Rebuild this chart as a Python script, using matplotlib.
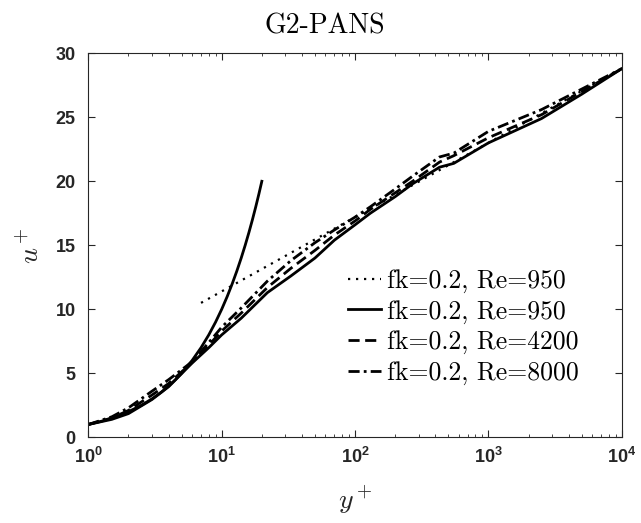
import numpy as np
import matplotlib
matplotlib.use("Agg")
import matplotlib.pyplot as plt

# ── data ──────────────────────────────────────────────────────
# viscous sublayer u+ = y+
yp_sub = [1, 1.25, 1.5, 1.75, 2, 2.5, 3, 3.5, 4, 4.5, 5, 6, 7, 8, 9, 10,
          11, 12, 13, 14, 15, 16, 17, 18, 19, 20]
up_sub = [1, 1.25, 1.5, 1.75, 2, 2.5, 3, 3.5, 4, 4.5, 5, 6, 7, 8, 9, 10,
          11, 12, 13, 14, 15, 16, 17, 18, 19, 20]

# log law (straight line on semilog axes)
yp_log = [7, 10000]
up_log = [10.5, 28.8]

# G2-PANS profiles
yp = [1, 1.5, 2, 3, 4, 6, 8, 10, 14, 22, 33, 50, 70, 100, 130, 200, 270,
      430, 550, 1000, 2500, 5000, 10000]
up_950 = [1.0, 1.4, 1.85, 2.95, 3.95, 5.8, 7.0, 8.0, 9.3, 11.3, 12.6, 14.0,
          15.4, 16.6, 17.5, 18.8, 19.8, 21.1, 21.4, 23.0, 24.9, 26.8, 28.8]
up_4200 = [1.0, 1.5, 2.1, 3.3, 4.2, 5.85, 7.2, 8.3, 9.7, 11.7, 13.2, 14.6,
           15.8, 16.9, 17.8, 19.1, 20.0, 21.5, 22.0, 23.4, 25.2, 27.0, 28.8]
up_8000 = [1.0, 1.6, 2.3, 3.6, 4.5, 5.9, 7.4, 8.6, 10.1, 12.2, 13.8, 15.2,
           16.2, 17.2, 18.0, 19.4, 20.4, 21.9, 22.2, 23.9, 25.6, 27.2, 28.8]

labels = ["fk=0.2, Re=950", "fk=0.2, Re=950", "fk=0.2, Re=4200", "fk=0.2, Re=8000"]

# ── style ──────────────────────────────────────────────────────
plt.rcParams["font.family"] = ["Liberation Sans Narrow", "Liberation Sans", "DejaVu Sans"]
plt.rcParams["mathtext.fontset"] = "cm"
dark = "#262626"

fig = plt.figure(figsize=(6.41, 5.23), dpi=100)
ax = fig.add_axes([0.1378, 0.1639, 0.8322, 0.7342])

lw = 2.0
l1, = ax.plot(yp_log, up_log, color="k", lw=1.6, ls=(0, (1, 2.6)), label=labels[0])
l2, = ax.plot(yp_sub, up_sub, color="k", lw=lw, ls="-", label=labels[1])
l3, = ax.plot(yp, up_4200, color="k", lw=lw, ls=(0, (4, 2)), label=labels[2])
l4, = ax.plot(yp, up_8000, color="k", lw=lw, ls=(0, (4, 1.5, 1, 1.5)), label=labels[3])
ax.plot(yp, up_950, color="k", lw=lw, ls="-")

ax.set_xscale("log")
ax.set_xlim(1, 1e4)
ax.set_ylim(0, 30)
ax.set_yticks(np.arange(0, 31, 5))

ax.tick_params(which="both", direction="in", top=True, right=True, colors=dark)
ax.tick_params(which="major", length=5, width=0.8)
ax.tick_params(which="minor", length=2.5, width=0.6)
ax.tick_params(axis="x", pad=7)
ax.tick_params(axis="y", pad=9)
for lab in ax.get_xticklabels() + ax.get_yticklabels():
    lab.set_fontweight("bold")
    lab.set_fontsize(13)
for sp in ax.spines.values():
    sp.set_color(dark)
    sp.set_linewidth(0.8)

ax.set_xlabel(r"$y^+$", fontsize=20, color=dark, labelpad=12)
ax.set_ylabel(r"$u^+$", fontsize=20, color=dark, labelpad=8)
ax.set_title("G2-PANS", family="cmr10", fontsize=20, x=0.443, pad=14)

ax.legend(handles=[l1, l2, l3, l4], loc="center left",
          bbox_to_anchor=(0.486, 0.287), frameon=False,
          prop={"family": "cmr10", "size": 18.5},
          handlelength=1.3, handletextpad=0.23, labelspacing=0.27,
          borderpad=0, borderaxespad=0)

fig.savefig("out.png", dpi=100)
